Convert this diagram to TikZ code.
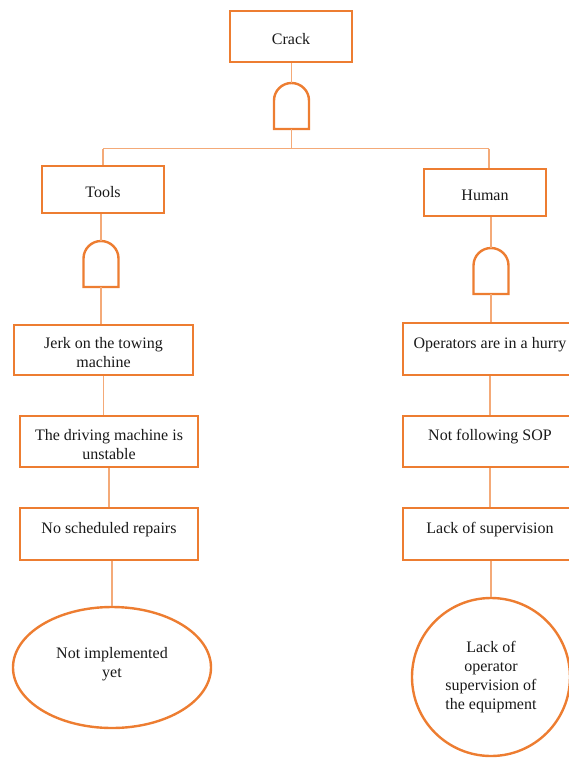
\documentclass[tikz,border=0pt]{standalone}
\usepackage{fontspec}
\setmainfont{Liberation Serif}
\usetikzlibrary{shapes.geometric}
\definecolor{boxor}{RGB}{237,125,49}
\definecolor{lineor}{RGB}{244,170,120}
\definecolor{txt}{RGB}{25,25,25}
\newcommand{\tstrut}{\rule{0pt}{17pt}}
\tikzset{
  boxline/.style={draw=boxor, line width=2.4pt},
  conn/.style={draw=lineor, line width=1.3pt},
  evbox/.style={boxline, rectangle, inner sep=0pt, align=center, text=txt,
    font=\fontsize{16}{19}\selectfont},
  endell/.style={boxline, ellipse, inner sep=0pt, align=center, text=txt,
    font=\fontsize{16}{19}\selectfont},
  endcirc/.style={boxline, circle, inner sep=0pt, align=center, text=txt,
    font=\fontsize{16}{19}\selectfont},
}
\newcommand{\andgateat}[3]{% name, center x, top y (negative)
  \draw[boxline] (#2-17.5,#3-46) -- (#2-17.5,#3-17.5) arc (180:0:17.5) -- (#2+17.5,#3-46) -- cycle;
  \coordinate (#1t) at (#2,#3);
  \coordinate (#1b) at (#2,#3-46);
}
\begin{document}
\begin{tikzpicture}[x=1pt,y=1pt]
\useasboundingbox (0,0) rectangle (569,-758);
\clip (0,0) rectangle (569,-758);

% nodes
\node[evbox, minimum width=122, minimum height=51] (crack) at (291,-36.5) {\tstrut Crack};
\node[evbox, minimum width=122, minimum height=47] (tools) at (103,-189.5) {\tstrut Tools};
\node[evbox, minimum width=122, minimum height=47] (human) at (485,-192.5) {\tstrut Human};

\node[evbox, minimum width=179, minimum height=50] (jerk) at (103.5,-350) {\tstrut Jerk on the towing\\machine};
\node[evbox, minimum width=178, minimum height=51] (drive) at (109,-441.5) {\tstrut The driving machine is\\unstable};
\node[evbox, minimum width=178, minimum height=52] (nosch) at (109,-534) {\tstrut No scheduled repairs\\\mbox{}};

\node[evbox, minimum width=174, minimum height=52] (oper) at (490,-349) {\tstrut Operators are in a hurry\\\mbox{}};
\node[evbox, minimum width=174, minimum height=51] (sop) at (490,-441.5) {\tstrut Not following SOP\\\mbox{}};
\node[evbox, minimum width=174, minimum height=52] (lack) at (490,-534) {\tstrut Lack of supervision\\\mbox{}};

\node[endell, minimum width=198, minimum height=121] (notimp) at (112,-667.5) {Not implemented\\yet\\[-8pt]\mbox{}};
\node[endcirc, minimum size=158] (opsup) at (491,-677) {Lack of\\operator\\supervision of\\the equipment};

% gates
\andgateat{ga}{291.5}{-83}
\andgateat{gb}{101}{-241}
\andgateat{gc}{491}{-248}

\coordinate (hl) at (103,-148.5);
\coordinate (hr) at (489,-148.5);

% connectors
\draw[conn] (crack.south -| gat) -- (gat);
\draw[conn] (gab) -- (gab |- hl);
\draw[conn] (hl) -- (hr);
\draw[conn] (hl) -- (hl |- tools.north);
\draw[conn] (hr) -- (hr |- human.north);

\draw[conn] (gbt |- tools.south) -- (gbt);
\draw[conn] (gbb) -- (gbb |- jerk.north);
\draw[conn] (jerk.south) -- (jerk.south |- drive.north);
\draw[conn] (drive.south) -- (drive.south |- nosch.north);
\draw[conn] (notimp.north |- nosch.south) -- (notimp.north);

\draw[conn] (gct |- human.south) -- (gct);
\draw[conn] (gcb) -- (gcb |- oper.north);
\draw[conn] (oper.south) -- (sop.north);
\draw[conn] (sop.south) -- (lack.north);
\draw[conn] (opsup.north |- lack.south) -- (opsup.north);
\end{tikzpicture}
\end{document}
